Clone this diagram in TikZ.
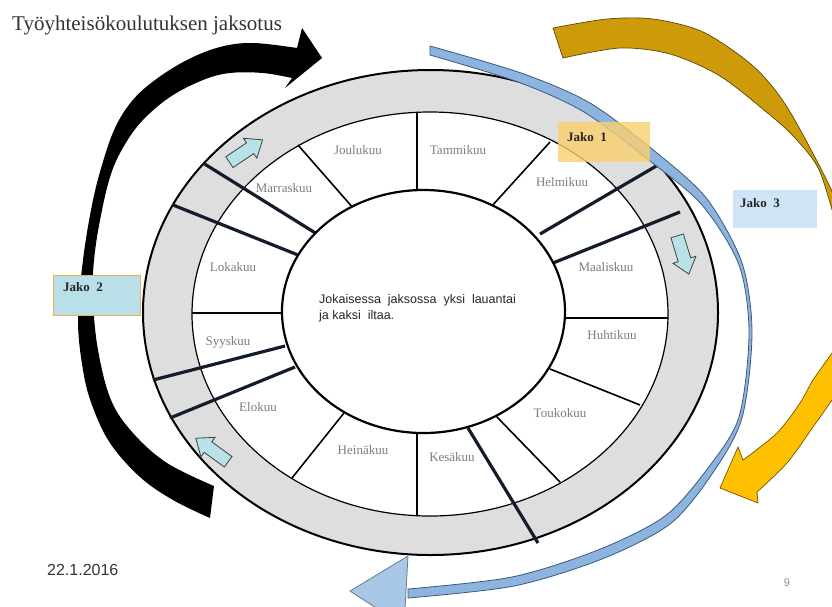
\documentclass[tikz,border=0pt]{standalone}
\usepackage{fontspec}
\setmainfont{Liberation Serif}
\setsansfont{Liberation Sans}
\usetikzlibrary{positioning}

\definecolor{rengas}{RGB}{222,222,222}
\definecolor{viiva}{RGB}{18,28,42}
\definecolor{kulta}{RGB}{205,155,10}
\definecolor{keltainen}{RGB}{255,192,0}
\definecolor{sininen}{RGB}{141,180,222}
\definecolor{sinireuna}{RGB}{60,90,120}
\definecolor{syaani}{RGB}{184,226,232}
\definecolor{kuukausi}{RGB}{125,125,125}
\definecolor{jakoa}{RGB}{250,208,110}
\definecolor{jakob}{RGB}{185,223,233}
\definecolor{jakoc}{RGB}{207,229,247}

\newcommand{\pikkunuoli}[2]{%
  \begin{scope}[shift={#1}, rotate=#2]
    \filldraw[fill=syaani, draw=black!75, line width=0.8pt]
      (-20,-6.5) -- (5,-6.5) -- (5,-12) -- (20,0) -- (5,12) -- (5,6.5) -- (-20,6.5) -- cycle;
  \end{scope}}

\begin{document}
\begin{tikzpicture}[x=1pt, y=-1pt,
    month/.style={font=\fontsize{13}{15}\selectfont, text=kuukausi},
    jako/.style={font=\bfseries\fontsize{13}{15}\selectfont, text=black!85, anchor=west, inner sep=0pt},
    thinline/.style={line width=1.6pt, black},
    thickline/.style={line width=3.2pt, viiva}]

        \useasboundingbox (0,0) rectangle (832,606);
        \fill[white] (0,0) rectangle (832,606);
        \clip (0,0) rectangle (832,606);

        % Ring
        \filldraw[fill=rengas, line width=2pt] (430.5,312.5) ellipse [x radius=287.5, y radius=242.5];
        \filldraw[fill=white, line width=1.2pt] (430,314) ellipse [x radius=238, y radius=202];

        % Month lines
        \draw[thinline] (417,113) -- (417,192);
        \draw[thinline] (550,142) -- (491,207);
        \draw[thinline] (668,318) -- (563,318);
        \draw[thinline] (640,405) -- (550,369);
        \draw[thinline] (560,482) -- (496,416);
        \draw[thinline] (417,516) -- (417,431);
        \draw[thinline] (292,478) -- (344,413);
        \draw[thinline] (192,313) -- (284,313);
        \draw[thinline] (298,145) -- (354,209);

        % Period lines
        \draw[thickline] (173,205) -- (298,255);
        \draw[thickline] (203,163) -- (317,234);
        \draw[thickline] (658,165) -- (540,234);
        \draw[thickline] (680,212) -- (553,263);
        \draw[thickline] (538,543) -- (468,428);
        \draw[thickline] (153,380) -- (285,346);
        \draw[thickline] (170,418) -- (295,367);

        % Inner circle
        \filldraw[fill=white, line width=2.2pt] (423.5,311.5) ellipse [x radius=141.5, y radius=121.5];
        \node[font=\sffamily\fontsize{12.5}{16}\selectfont, text=black!85, align=left, anchor=west, inner sep=0pt] (teksti) at (319,308)
            {Jokaisessa~~jaksossa~~yksi~~lauantai\\ja kaksi~~iltaa.};

        % Months
        \node[month] (tammi) at (458,150) {Tammikuu};
        \node[month] (helmi) at (562,182) {Helmikuu};
        \node[month] (maalis) at (606,267) {Maaliskuu};
        \node[month] (huhti) at (612,335) {Huhtikuu};
        \node[month] (touko) at (560,413) {Toukokuu};
        \node[month] (kesa) at (452,457) {Kesäkuu};
        \node[month] (heina) at (363,450) {Heinäkuu};
        \node[month] (elo) at (258,407) {Elokuu};
        \node[month] (syys) at (228,342) {Syyskuu};
        \node[month] (loka) at (233,267) {Lokakuu};
        \node[month] (marras) at (284,188) {Marraskuu};
        \node[month] (joulu) at (358,150) {Joulukuu};

        % Small arrows in the ring
        \pikkunuoli{(246,151)}{34}
        \pikkunuoli{(683,255)}{-73}
        \pikkunuoli{(212,450)}{144}

        % Jako 2 arrow
        \fill[black] plot[smooth, tension=0.6] coordinates {(297,48) (253,43) (220,47) (187,60) (155,80) (132,101) (115,128) (102,165) (92,205) (83,260) (78,320) (83,370) (92,405) (110,443) (140,477) (173,500) (210,518)}
            -- plot[smooth, tension=0.6] coordinates {(214,486) (167,463) (133,433) (111,400) (98,350) (93,300) (94,260) (101,215) (111,174) (124,146) (142,121) (170,97) (203,80) (230,73) (263,73) (292,78)}
            -- (285,88) -- (322,58) -- (302,28) -- cycle;

        % Jako 1 arrow
        \filldraw[fill=kulta, draw=kulta!45!black, line width=0.7pt]
            (563,58) -- plot[smooth] coordinates {(553,28) (607,19) (653,19) (703,32) (753,66) (787,107) (830,187) (850,240)}
            -- plot[smooth] coordinates {(842,246) (820,172) (795,138) (770,115) (720,76) (670,54) (620,48) (563,58)} -- cycle;
        \filldraw[fill=keltainen, draw=keltainen!45!black, line width=0.7pt]
            (880,300) -- plot[smooth] coordinates {(850,327) (832,353) (813,380) (800,403) (777,433) (743,460)}
            -- (738,447) -- (720,488) -- (758,503) -- (757,492)
            -- plot[smooth] coordinates {(757,492) (787,463) (813,427) (832,400) (850,372)} -- (880,372) -- cycle;

        % Jako 3 arrow
        \filldraw[fill=sininen, draw=sinireuna, line width=0.8pt]
            plot[smooth] coordinates {(430,46) (521,73) (590,103) (657,153) (707,199) (742,263) (752,333) (742,418) (712,474) (670,524) (602,559) (514,586) (408,598)}
            -- plot[smooth] coordinates {(408,589) (512,577) (598,550) (665,516) (708,468) (739,417) (749,333) (739,265) (702,205) (650,161) (584,112) (518,82) (430,55)} -- cycle;
        \filldraw[fill=sininen!75!white, draw=sinireuna!80!white, line width=0.8pt] (408,556) -- (350,591) -- (404,626) -- cycle;

        % Period boxes
        \node[fill=jakoa, opacity=0.8, minimum width=92pt, minimum height=40pt, anchor=north west, inner sep=0pt] (laatikko1) at (558,122) {};
        \node[jako] (jako1) at ([xshift=9pt, yshift=-15pt]laatikko1.north west) {Jako~~1};
        \node[fill=jakob, draw={rgb,255:red,232;green,181;blue,76}, line width=1pt, minimum width=87pt, minimum height=40pt, anchor=north west, inner sep=0pt] (laatikko2) at (53,275) {};
        \node[jako] (jako2) at ([xshift=10pt, yshift=-12pt]laatikko2.north west) {Jako~~2};
        \node[fill=jakoc, minimum width=84pt, minimum height=38pt, anchor=north west, inner sep=0pt] (laatikko3) at (733,190) {};
        \node[jako] (jako3) at ([xshift=7pt, yshift=-13pt]laatikko3.north west) {Jako~~3};

        % Title and footer
        \node[font=\fontsize{21}{24}\selectfont, text=black!80, anchor=west, inner sep=0pt] (otsikko) at (12,25) {Työyhteisökoulutuksen jaksotus};
        \node[font=\sffamily\fontsize{16}{18}\selectfont, text=black!80, anchor=west, inner sep=0pt] (pvm) at (47,570) {22.1.2016};
        \node[font=\sffamily\fontsize{11}{13}\selectfont, text=black!45, inner sep=0pt] (sivu) at (787,583) {9};

\end{tikzpicture}
\end{document}
